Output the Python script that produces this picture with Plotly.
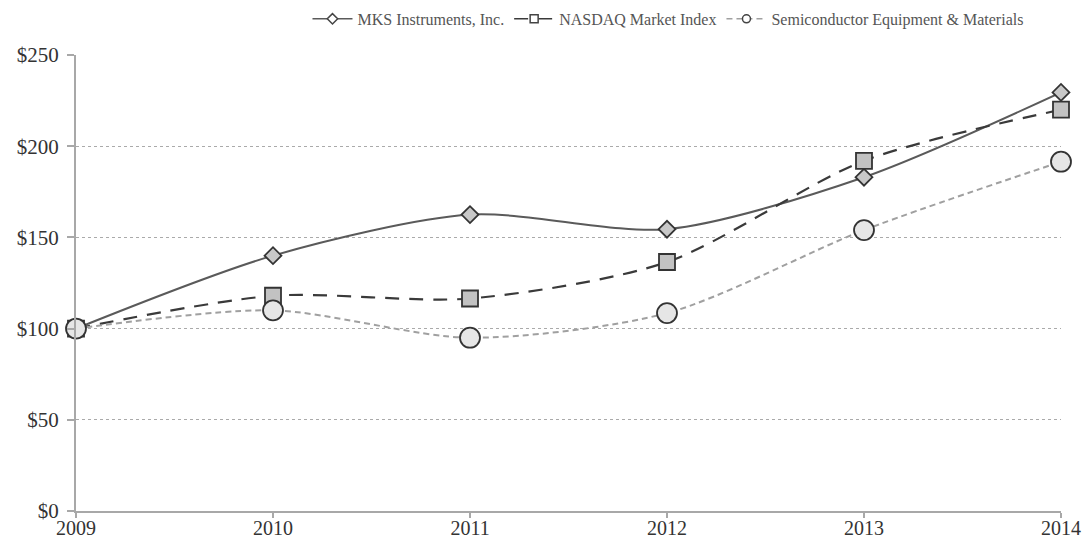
import plotly.graph_objects as go

years = [2009, 2010, 2011, 2012, 2013, 2014]
mks = [100, 140, 162.5, 154.5, 183, 229.5]
nasdaq = [100, 118, 116.5, 136.5, 192, 220]
semi = [100, 110, 95, 108.5, 154, 191.5]
y_ticks = [0, 50, 100, 150, 200, 250]
y_labels = ["$0", "$50", "$100", "$150", "$200", "$250"]
names = ["MKS Instruments, Inc.", "NASDAQ Market Index", "Semiconductor Equipment & Materials"]

styles = [
    dict(line=dict(color="#5a5a5a", width=2, shape="spline", smoothing=0.8),
         sym="diamond", size=13, fill="#c8c8c8"),
    dict(line=dict(color="#3a3a3a", width=2.2, dash="14px,10px", shape="spline", smoothing=0.8),
         sym="square", size=16, fill="#c2c2c2"),
    dict(line=dict(color="#a0a0a0", width=2, dash="6px,4px", shape="spline", smoothing=0.8),
         sym="circle", size=20, fill="#e6e6e6"),
]
legend_sizes = [8, 8, 8]

fig = go.Figure()
for name, vals, st in zip(names, [mks, nasdaq, semi], styles):
    fig.add_trace(go.Scatter(
        x=years, y=vals, name=name, mode="lines+markers", showlegend=False,
        line=st["line"],
        marker=dict(symbol=st["sym"], size=st["size"], color=st["fill"],
                    line=dict(color="#333333", width=1.8)),
        cliponaxis=False))
for name, st, ls in zip(names, styles, legend_sizes):
    fig.add_trace(go.Scatter(
        x=[None], y=[None], name=name, mode="lines+markers", showlegend=True,
        line=dict(color=st["line"]["color"], width=1.5, dash=st["line"].get("dash")),
        marker=dict(symbol=st["sym"], size=ls, color="white",
                    line=dict(color="#444444", width=1.5))))

fig.update_layout(
    width=1086, height=541,
    margin=dict(l=76, r=25, t=55, b=30, autoexpand=False),
    paper_bgcolor="white", plot_bgcolor="white",
    font=dict(family="Liberation Serif", color="#333333"),
    showlegend=True,
    legend=dict(orientation="h", x=0.601, xanchor="center",
                yref="container", y=0.965, yanchor="middle",
                font=dict(size=16, family="Liberation Serif", color="#555555"),
                itemwidth=40, bgcolor="rgba(0,0,0,0)"),
    xaxis=dict(range=[2009, 2014], tickvals=years, ticktext=[str(y) for y in years],
               automargin=False,
               showgrid=False, zeroline=False, showline=True, linecolor="#a8a8a8", linewidth=2,
               ticks="outside", ticklen=5, tickcolor="#a8a8a8", tickwidth=2,
               ticklabelstandoff=-7,
               tickfont=dict(size=20, color="#333333")),
    yaxis=dict(range=[0, 250], tickvals=y_ticks, ticktext=y_labels,
               automargin=False,
               showgrid=True, gridcolor="#aaaaaa", griddash="dot", gridwidth=1,
               zeroline=False, showline=True, linecolor="#a8a8a8", linewidth=2,
               ticks="outside", ticklen=7, tickcolor="#a8a8a8", tickwidth=2,
               ticklabelstandoff=4,
               tickfont=dict(size=21, color="#333333")),
)

fig.write_html("out.html")
